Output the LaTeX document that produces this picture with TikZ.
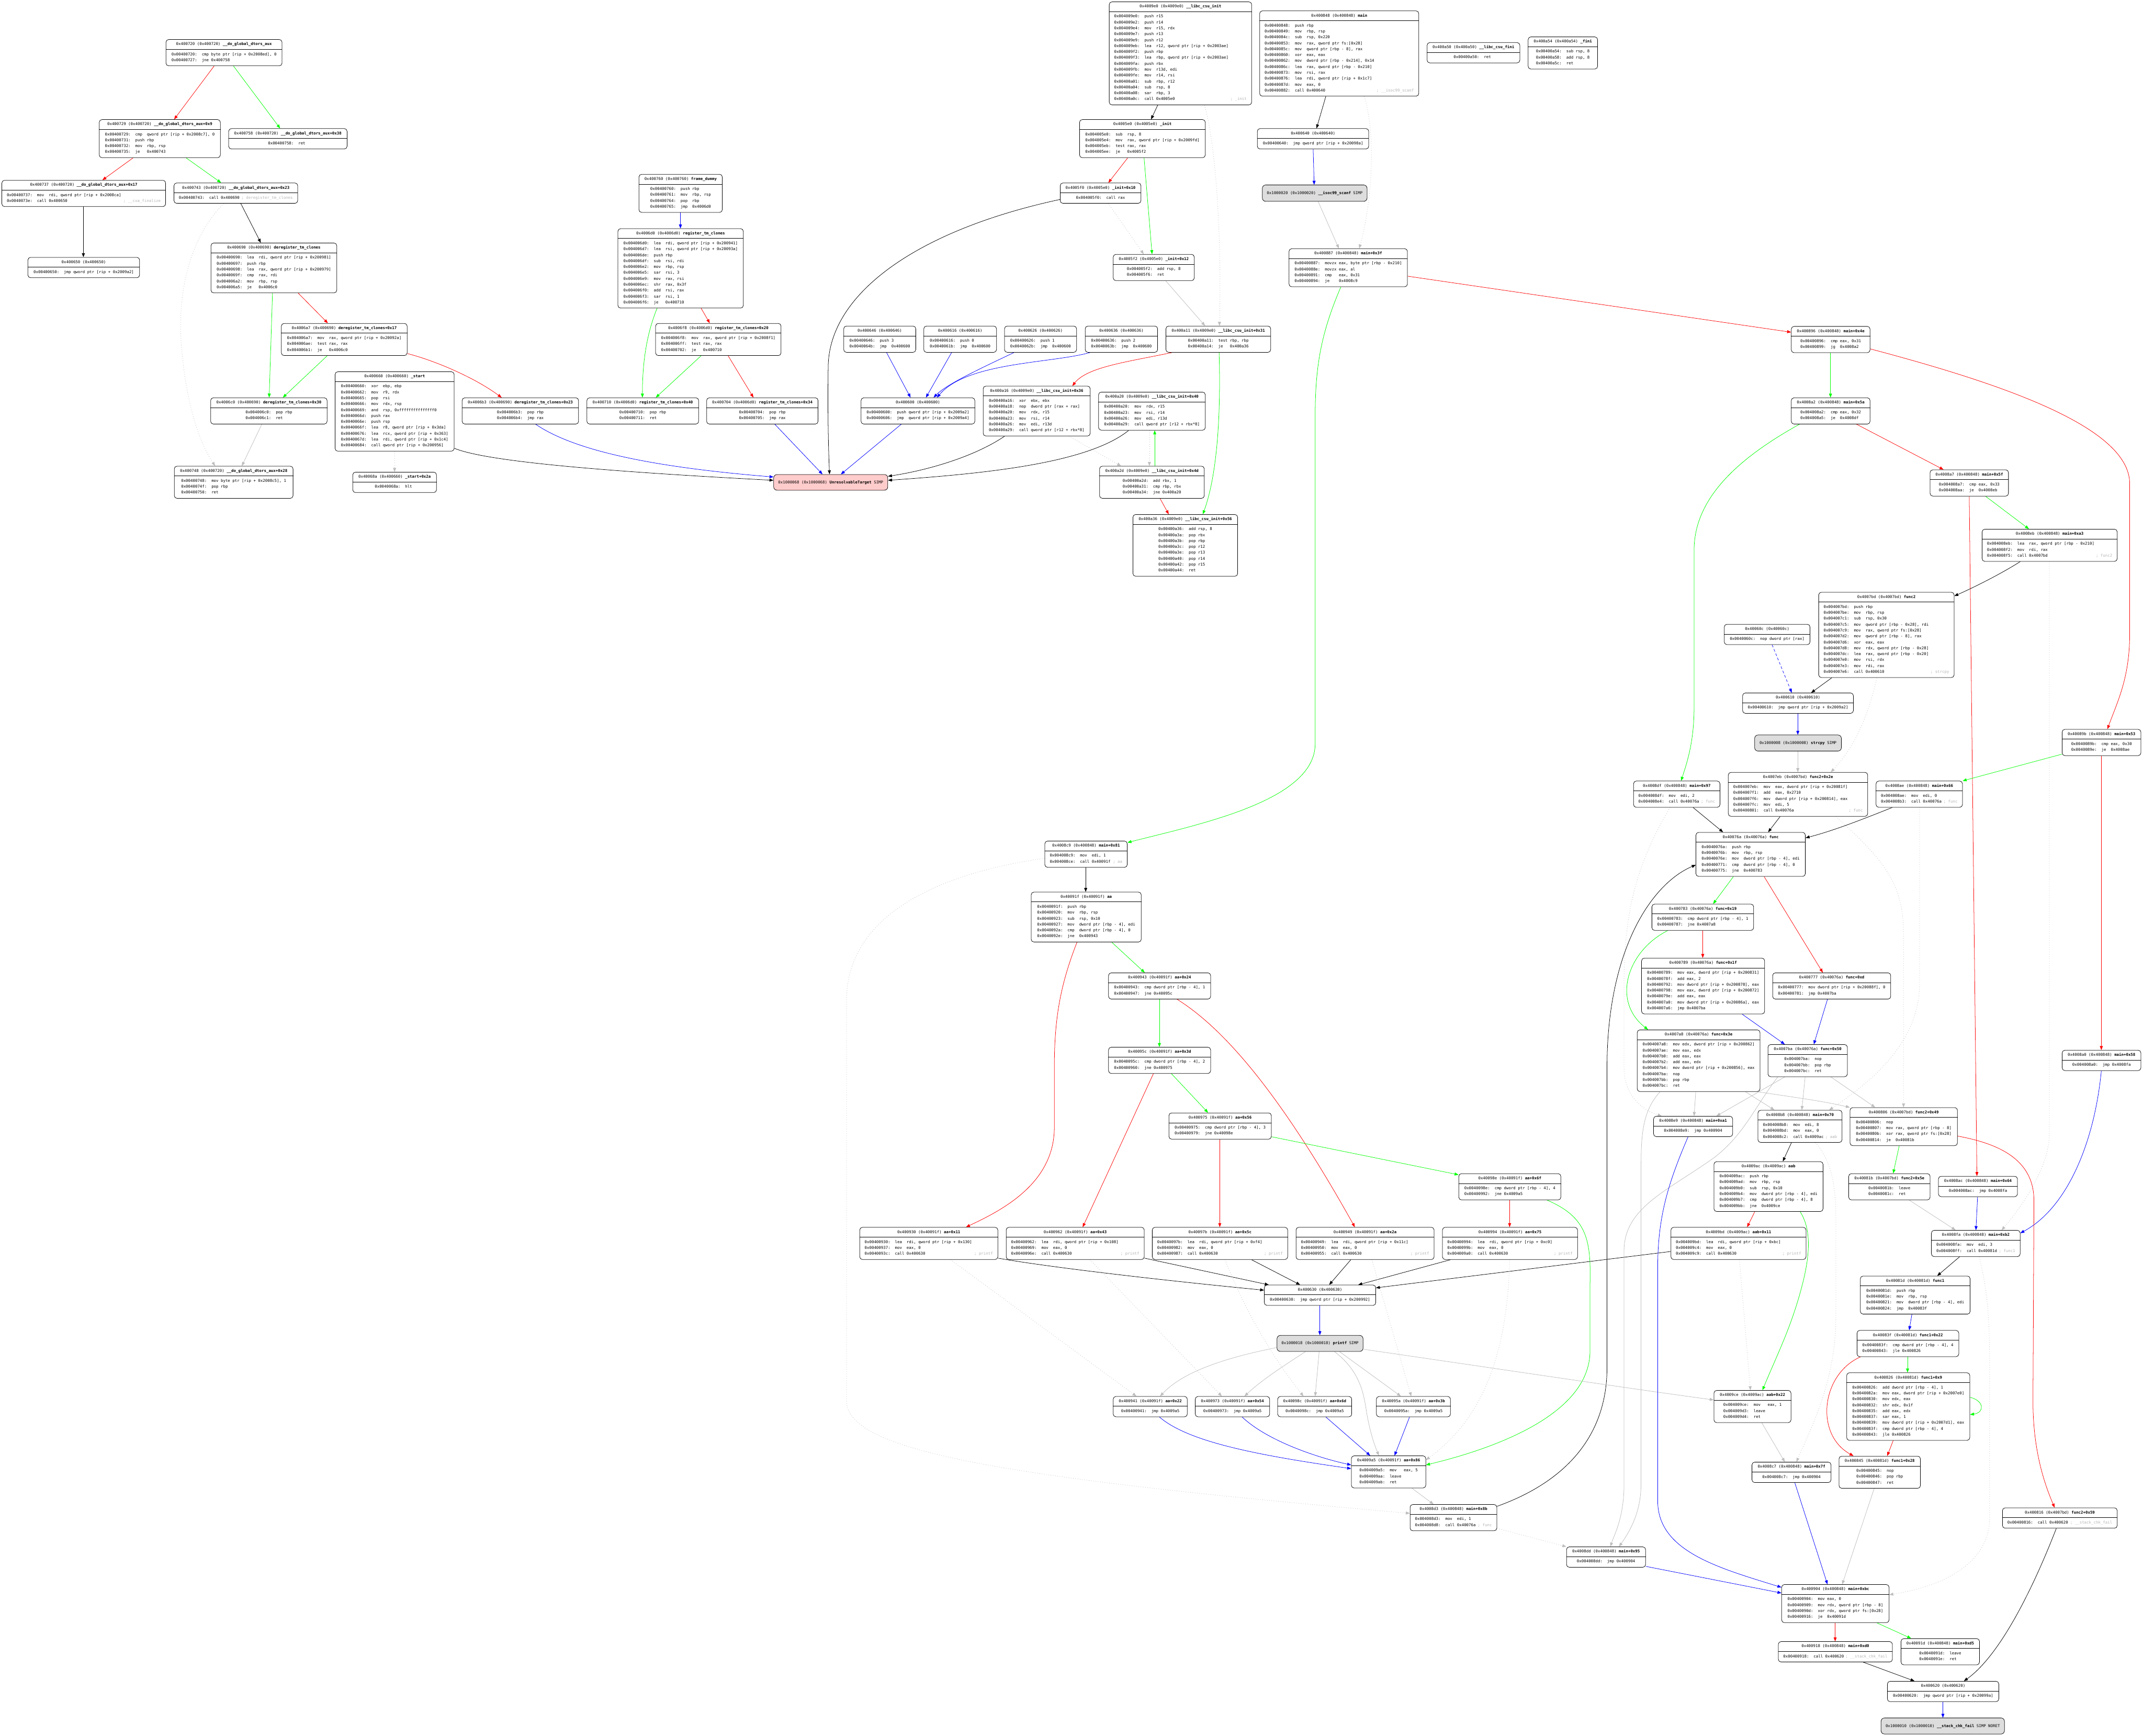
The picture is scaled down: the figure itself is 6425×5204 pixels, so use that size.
\documentclass[tikz,border=0pt]{standalone}
\usepackage{fontspec}
\setmonofont{DejaVu Sans Mono}
\usetikzlibrary{arrows.meta,calc}
\pgfdeclarelayer{bg}
\pgfdeclarelayer{edges}
\pgfsetlayers{bg,edges,main}
\definecolor{eg}{HTML}{00FF00}
\definecolor{eyc}{HTML}{BEBEBE}
\definecolor{cmtc}{HTML}{B4B4B4}
\definecolor{pinkf}{HTML}{FFCCCC}
\definecolor{simpf}{HTML}{DDDDDD}
\newlength\mwd
\newcommand\cfont{\ttfamily\fontsize{5.81}{8.85}\selectfont}
\newcommand\cln[3]{\strut 0x#1:\ \ \makebox[\mwd][l]{#2}\ #3}
\tikzset{
 bx/.style={draw=black, line width=0.6pt, rounded corners=4pt, inner sep=0pt, fill=white},
 tx/.style={font=\cfont, inner sep=0pt, text=black},
 code/.style={tx, align=left},
 cmt/.style={tx, text=cmtc},
 ar/.style={line width=0.6pt, -{Triangle[length=6pt,width=4.5pt]}},
 eR/.style={ar, draw=red},
 eG/.style={ar, draw=eg},
 eB/.style={ar, draw=blue},
 eK/.style={ar, draw=black},
 eY/.style={ar, draw=eyc},
 eD/.style={ar, draw=eyc, dash pattern=on 0.8pt off 2.6pt},
 eBd/.style={ar, draw=blue, dash pattern=on 4pt off 3pt},
}
\newcommand\blk[6]{%
 \pgfmathsetmacro\bw{(#4-#2)*0.5}%
 \pgfmathsetmacro\bh{(43.3+17.7*#5)*0.5}%
 \node[bx, minimum width=\bw pt, minimum height=\bh pt, anchor=north west] (#1) at (#2,#3) {};
 \draw[line width=0.6pt] ([yshift=-15pt]#1.north west) -- ([yshift=-15pt]#1.north east);
 \node[tx, anchor=north] at ([yshift=-2.75pt]#1.north) {\strut #6};
}
\newcommand\bodyc[3]{%
 \pgfmathsetlength\mwd{#2*3.4979pt}%
 \node[code, anchor=north] at ([yshift=-17.75pt]#1.north) {#3};
}
\newcommand\bodyl[5]{%
 \pgfmathsetlength\mwd{#2*3.4979pt}%
 \node[code, anchor=north west] at ([xshift=7.5pt,yshift=-17.75pt]#1.north west) {#3};
 \node[cmt, anchor=north east] at ([xshift=-7.5pt,yshift={-(17.75+8.85*(#4-1))*1pt}]#1.north east) {\strut #5};
}
\newcommand\simp[7]{%
 \pgfmathsetmacro\bw{(#4-#2)*0.5}%
 \pgfmathsetmacro\bh{(#5-#3)*0.5}%
 \node[bx, fill=#6, rounded corners=5pt, minimum width=\bw pt, minimum height=\bh pt, anchor=north west] (#1) at (#2,#3) {};
 \node[tx] at (#1.center) {\strut #7};
}
\begin{document}
\begin{tikzpicture}[x=0.5pt,y=-0.5pt]
\begin{pgfonlayer}{bg}
\fill[white] (0,0) rectangle (6425,5204);
\end{pgfonlayer}
\useasboundingbox (0,0) rectangle (6425,5204);

% ---------------- nodes ----------------
\blk{dtors}{497}{118}{845}{2}{0x400720 (0x400720) \textbf{\_\_do\_global\_dtors\_aux}}
\bodyc{dtors}{3}{\cln{00400720}{cmp}{byte ptr [rip + 0x2008ed], 0}\\\cln{00400727}{jne}{0x400758}}

\blk{dtors9}{297}{358}{660}{4}{0x400729 (0x400720) \textbf{\_\_do\_global\_dtors\_aux+0x9}}
\bodyc{dtors9}{4}{\cln{00400729}{cmp}{qword ptr [rip + 0x2008c7], 0}\\\cln{00400731}{push}{rbp}\\\cln{00400732}{mov}{rbp, rsp}\\\cln{00400735}{je}{0x400743}}

\blk{dtors38}{685}{385}{1040}{1}{0x400758 (0x400720) \textbf{\_\_do\_global\_dtors\_aux+0x38}}
\bodyc{dtors38}{3}{\cln{00400758}{ret}{}}

\blk{dtors17}{5}{540}{496}{2}{0x400737 (0x400720) \textbf{\_\_do\_global\_dtors\_aux+0x17}}
\bodyl{dtors17}{4}{\cln{00400737}{mov}{rdi, qword ptr [rip + 0x2008ca]}\\\cln{0040073e}{call}{0x400650}}{2}{; \_\_cxa\_finalize}

\blk{dtors23}{521}{548}{892}{1}{0x400743 (0x400720) \textbf{\_\_do\_global\_dtors\_aux+0x23}}
\bodyl{dtors23}{4}{\cln{00400743}{call}{0x400690}}{1}{; deregister\_tm\_clones}

\blk{p650}{83}{771}{418}{1}{0x400650 (0x400650)}
\bodyc{p650}{3}{\cln{00400650}{jmp}{qword ptr [rip + 0x2009a2]}}

\blk{dereg}{632}{728}{1009}{6}{0x400690 (0x400690) \textbf{deregister\_tm\_clones}}
\bodyc{dereg}{4}{\cln{00400690}{lea}{rdi, qword ptr [rip + 0x200981]}\\\cln{00400697}{push}{rbp}\\\cln{00400698}{lea}{rax, qword ptr [rip + 0x200979]}\\\cln{0040069f}{cmp}{rax, rdi}\\\cln{004006a2}{mov}{rbp, rsp}\\\cln{004006a5}{je}{0x4006c0}}

\blk{dereg17}{843}{969}{1220}{3}{0x4006a7 (0x400690) \textbf{deregister\_tm\_clones+0x17}}
\bodyc{dereg17}{4}{\cln{004006a7}{mov}{rax, qword ptr [rip + 0x20092a]}\\\cln{004006ae}{test}{rax, rax}\\\cln{004006b1}{je}{0x4006c0}}

\blk{start}{1004}{1114}{1361}{11}{0x400660 (0x400660) \textbf{\_start}}
\bodyc{start}{4}{\cln{00400660}{xor}{ebp, ebp}\\\cln{00400662}{mov}{r9, rdx}\\\cln{00400665}{pop}{rsi}\\\cln{00400666}{mov}{rdx, rsp}\\\cln{00400669}{and}{rsp, 0xfffffffffffffff0}\\\cln{0040066d}{push}{rax}\\\cln{0040066e}{push}{rsp}\\\cln{0040066f}{lea}{r8, qword ptr [rip + 0x3da]}\\\cln{00400676}{lea}{rcx, qword ptr [rip + 0x363]}\\\cln{0040067d}{lea}{rdi, qword ptr [rip + 0x1c4]}\\\cln{00400684}{call}{qword ptr [rip + 0x200956]}}

\blk{dereg30}{631}{1192}{980}{2}{0x4006c0 (0x400690) \textbf{deregister\_tm\_clones+0x30}}
\bodyc{dereg30}{3}{\cln{004006c0}{pop}{rbp}\\\cln{004006c1}{ret}{}}

\blk{dereg23}{1385}{1192}{1734}{2}{0x4006b3 (0x400690) \textbf{deregister\_tm\_clones+0x23}}
\bodyc{dereg23}{3}{\cln{004006b3}{pop}{rbp}\\\cln{004006b4}{jmp}{rax}}

\blk{dtors28}{522}{1397}{878}{3}{0x400748 (0x400720) \textbf{\_\_do\_global\_dtors\_aux+0x28}}
\bodyc{dtors28}{3}{\cln{00400748}{mov}{byte ptr [rip + 0x2008c5], 1}\\\cln{0040074f}{pop}{rbp}\\\cln{00400750}{ret}{}}

\blk{start2a}{1057}{1415}{1308}{1}{0x40068a (0x400660) \textbf{\_start+0x2a}}
\bodyc{start2a}{3}{\cln{0040068a}{hlt}{}}

\blk{fdummy}{1915}{522}{2165}{4}{0x400760 (0x400760) \textbf{frame\_dummy}}
\bodyc{fdummy}{4}{\cln{00400760}{push}{rbp}\\\cln{00400761}{mov}{rbp, rsp}\\\cln{00400764}{pop}{rbp}\\\cln{00400765}{jmp}{0x4006d0}}

\blk{reg}{1852}{685}{2228}{11}{0x4006d0 (0x4006d0) \textbf{register\_tm\_clones}}
\bodyc{reg}{4}{\cln{004006d0}{lea}{rdi, qword ptr [rip + 0x200941]}\\\cln{004006d7}{lea}{rsi, qword ptr [rip + 0x20093a]}\\\cln{004006de}{push}{rbp}\\\cln{004006df}{sub}{rsi, rdi}\\\cln{004006e2}{mov}{rbp, rsp}\\\cln{004006e5}{sar}{rsi, 3}\\\cln{004006e9}{mov}{rax, rsi}\\\cln{004006ec}{shr}{rax, 0x3f}\\\cln{004006f0}{add}{rsi, rax}\\\cln{004006f3}{sar}{rsi, 1}\\\cln{004006f6}{je}{0x400710}}

\blk{reg20}{1965}{969}{2341}{3}{0x4006f8 (0x4006d0) \textbf{register\_tm\_clones+0x20}}
\bodyc{reg20}{4}{\cln{004006f8}{mov}{rax, qword ptr [rip + 0x2008f1]}\\\cln{004006ff}{test}{rax, rax}\\\cln{00400702}{je}{0x400710}}

\blk{reg40}{1759}{1192}{2094}{2}{0x400710 (0x4006d0) \textbf{register\_tm\_clones+0x40}}
\bodyc{reg40}{3}{\cln{00400710}{pop}{rbp}\\\cln{00400711}{ret}{}}

\blk{reg34}{2118}{1192}{2452}{2}{0x400704 (0x4006d0) \textbf{register\_tm\_clones+0x34}}
\bodyc{reg34}{3}{\cln{00400704}{pop}{rbp}\\\cln{00400705}{jmp}{rax}}

\simp{unres}{2319}{1422}{2661}{1469}{pinkf}{0x1000068 (0x1000068) \textbf{UnresolvableTarget} SIMP}

\blk{p646}{2529}{977}{2745}{2}{0x400646 (0x400646)}
\bodyc{p646}{4}{\cln{00400646}{push}{3}\\\cln{0040064b}{jmp}{0x400600}}
\blk{p616}{2769}{977}{2987}{2}{0x400616 (0x400616)}
\bodyc{p616}{4}{\cln{00400616}{push}{0}\\\cln{0040061b}{jmp}{0x400600}}
\blk{p626}{3011}{977}{3227}{2}{0x400626 (0x400626)}
\bodyc{p626}{4}{\cln{00400626}{push}{1}\\\cln{0040062b}{jmp}{0x400600}}
\blk{p636}{3253}{977}{3470}{2}{0x400636 (0x400636)}
\bodyc{p636}{4}{\cln{00400636}{push}{2}\\\cln{0040063b}{jmp}{0x400600}}

\blk{p600}{2581}{1192}{2922}{2}{0x400600 (0x400600)}
\bodyc{p600}{4}{\cln{00400600}{push}{qword ptr [rip + 0x2009a2]}\\\cln{00400606}{jmp}{qword ptr [rip + 0x2009a4]}}

\blk{csu36}{2947}{1157}{3268}{6}{0x400a16 (0x4009e0) \textbf{\_\_libc\_csu\_init+0x36}}
\bodyc{csu36}{4}{\cln{00400a16}{xor}{ebx, ebx}\\\cln{00400a18}{nop}{dword ptr [rax + rax]}\\\cln{00400a20}{mov}{rdx, r15}\\\cln{00400a23}{mov}{rsi, r14}\\\cln{00400a26}{mov}{edi, r13d}\\\cln{00400a29}{call}{qword ptr [r12 + rbx*8]}}

\blk{init10}{3178}{548}{3420}{1}{0x4005f0 (0x4005e0) \textbf{\_init+0x10}}
\bodyc{init10}{4}{\cln{004005f0}{call}{rax}}

\blk{csu}{3325}{5}{3752}{15}{0x4009e0 (0x4009e0) \textbf{\_\_libc\_csu\_init}}
\bodyl{csu}{4}{\cln{004009e0}{push}{r15}\\\cln{004009e2}{push}{r14}\\\cln{004009e4}{mov}{r15, rdx}\\\cln{004009e7}{push}{r13}\\\cln{004009e9}{push}{r12}\\\cln{004009eb}{lea}{r12, qword ptr [rip + 0x2003ae]}\\\cln{004009f2}{push}{rbp}\\\cln{004009f3}{lea}{rbp, qword ptr [rip + 0x2003ae]}\\\cln{004009fa}{push}{rbx}\\\cln{004009fb}{mov}{r13d, edi}\\\cln{004009fe}{mov}{r14, rsi}\\\cln{00400a01}{sub}{rbp, r12}\\\cln{00400a04}{sub}{rsp, 8}\\\cln{00400a08}{sar}{rbp, 3}\\\cln{00400a0c}{call}{0x4005e0}}{15}{; \_init}

\blk{main}{3776}{32}{4253}{12}{0x400848 (0x400848) \textbf{main}}
\bodyl{main}{4}{\cln{00400848}{push}{rbp}\\\cln{00400849}{mov}{rbp, rsp}\\\cln{0040084c}{sub}{rsp, 0x220}\\\cln{00400853}{mov}{rax, qword ptr fs:[0x28]}\\\cln{0040085c}{mov}{qword ptr [rbp - 8], rax}\\\cln{00400860}{xor}{eax, eax}\\\cln{00400862}{mov}{dword ptr [rbp - 0x214], 0x14}\\\cln{0040086c}{lea}{rax, qword ptr [rbp - 0x210]}\\\cln{00400873}{mov}{rsi, rax}\\\cln{00400876}{lea}{rdi, qword ptr [rip + 0x1c7]}\\\cln{0040087d}{mov}{eax, 0}\\\cln{00400882}{call}{0x400640}}{12}{; \_\_isoc99\_scanf}

\blk{csufini}{4278}{127}{4556}{1}{0x400a50 (0x400a50) \textbf{\_\_libc\_csu\_fini}}
\bodyc{csufini}{3}{\cln{00400a50}{ret}{}}

\blk{fini}{4581}{110}{4789}{3}{0x400a54 (0x400a54) \textbf{\_fini}}
\bodyc{fini}{3}{\cln{00400a54}{sub}{rsp, 8}\\\cln{00400a58}{add}{rsp, 8}\\\cln{00400a5c}{ret}{}}

\blk{init}{3236}{358}{3613}{4}{0x4005e0 (0x4005e0) \textbf{\_init}}
\bodyc{init}{4}{\cln{004005e0}{sub}{rsp, 8}\\\cln{004005e4}{mov}{rax, qword ptr [rip + 0x2009fd]}\\\cln{004005eb}{test}{rax, rax}\\\cln{004005ee}{je}{0x4005f2}}

\blk{p640}{3769}{385}{4103}{1}{0x400640 (0x400640)}
\bodyc{p640}{3}{\cln{00400640}{jmp}{qword ptr [rip + 0x20098a]}}

\simp{scanf}{3784}{554}{4098}{603}{simpf}{0x1000020 (0x1000020) \textbf{\_\_isoc99\_scanf} SIMP}

\blk{init12}{3337}{762}{3580}{2}{0x4005f2 (0x4005e0) \textbf{\_init+0x12}}
\bodyc{init12}{3}{\cln{004005f2}{add}{rsp, 8}\\\cln{004005f6}{ret}{}}

\blk{main3f}{3864}{745}{4219}{4}{0x400887 (0x400848) \textbf{main+0x3f}}
\bodyc{main3f}{5}{\cln{00400887}{movzx}{eax, byte ptr [rbp - 0x210]}\\\cln{0040088e}{movzx}{eax, al}\\\cln{00400891}{cmp}{eax, 0x31}\\\cln{00400894}{je}{0x4008c9}}

\blk{csu31}{3495}{977}{3809}{2}{0x400a11 (0x4009e0) \textbf{\_\_libc\_csu\_init+0x31}}
\bodyc{csu31}{4}{\cln{00400a11}{test}{rbp, rbp}\\\cln{00400a14}{je}{0x400a36}}

\blk{csu40}{3293}{1175}{3613}{4}{0x400a20 (0x4009e0) \textbf{\_\_libc\_csu\_init+0x40}}
\bodyc{csu40}{4}{\cln{00400a20}{mov}{rdx, r15}\\\cln{00400a23}{mov}{rsi, r14}\\\cln{00400a26}{mov}{edi, r13d}\\\cln{00400a29}{call}{qword ptr [r12 + rbx*8]}}

\blk{csu4d}{3296}{1397}{3610}{3}{0x400a2d (0x4009e0) \textbf{\_\_libc\_csu\_init+0x4d}}
\bodyc{csu4d}{3}{\cln{00400a2d}{add}{rbx, 1}\\\cln{00400a31}{cmp}{rbp, rbx}\\\cln{00400a34}{jne}{0x400a20}}

\blk{csu56}{3396}{1542}{3710}{8}{0x400a36 (0x4009e0) \textbf{\_\_libc\_csu\_init+0x56}}
\bodyc{csu56}{3}{\cln{00400a36}{add}{rsp, 8}\\\cln{00400a3a}{pop}{rbx}\\\cln{00400a3b}{pop}{rbp}\\\cln{00400a3c}{pop}{r12}\\\cln{00400a3e}{pop}{r13}\\\cln{00400a40}{pop}{r14}\\\cln{00400a42}{pop}{r15}\\\cln{00400a44}{ret}{}}

\blk{m4e}{5370}{978}{5606}{2}{0x400896 (0x400848) \textbf{main+0x4e}}
\bodyc{m4e}{3}{\cln{00400896}{cmp}{eax, 0x31}\\\cln{00400899}{jg}{0x4008a2}}

\blk{m5a}{5370}{1192}{5606}{2}{0x4008a2 (0x400848) \textbf{main+0x5a}}
\bodyc{m5a}{3}{\cln{004008a2}{cmp}{eax, 0x32}\\\cln{004008a5}{je}{0x4008df}}

\blk{m5f}{5786}{1408}{6021}{2}{0x4008a7 (0x400848) \textbf{main+0x5f}}
\bodyc{m5f}{3}{\cln{004008a7}{cmp}{eax, 0x33}\\\cln{004008aa}{je}{0x4008eb}}

\blk{ma3}{5942}{1586}{6347}{3}{0x4008eb (0x400848) \textbf{main+0xa3}}
\bodyl{ma3}{4}{\cln{004008eb}{lea}{rax, qword ptr [rbp - 0x210]}\\\cln{004008f2}{mov}{rdi, rax}\\\cln{004008f5}{call}{0x4007bd}}{3}{; func2}

\blk{m81}{3132}{2521}{3379}{2}{0x4008c9 (0x400848) \textbf{main+0x81}}
\bodyl{m81}{4}{\cln{004008c9}{mov}{edi, 1}\\\cln{004008ce}{call}{0x40091f}}{2}{; aa}

\blk{aa}{3091}{2674}{3421}{6}{0x40091f (0x40091f) \textbf{aa}}
\bodyc{aa}{4}{\cln{0040091f}{push}{rbp}\\\cln{00400920}{mov}{rbp, rsp}\\\cln{00400923}{sub}{rsp, 0x10}\\\cln{00400927}{mov}{dword ptr [rbp - 4], edi}\\\cln{0040092a}{cmp}{dword ptr [rbp - 4], 0}\\\cln{0040092e}{jne}{0x400943}}

\blk{aa24}{3323}{2916}{3629}{2}{0x400943 (0x40091f) \textbf{aa+0x24}}
\bodyc{aa24}{3}{\cln{00400943}{cmp}{dword ptr [rbp - 4], 1}\\\cln{00400947}{jne}{0x40095c}}

\blk{aa3d}{3323}{3139}{3629}{2}{0x40095c (0x40091f) \textbf{aa+0x3d}}
\bodyc{aa3d}{3}{\cln{0040095c}{cmp}{dword ptr [rbp - 4], 2}\\\cln{00400960}{jne}{0x400975}}

\blk{aa56}{3504}{3336}{3811}{2}{0x400975 (0x40091f) \textbf{aa+0x56}}
\bodyc{aa56}{3}{\cln{00400975}{cmp}{dword ptr [rbp - 4], 3}\\\cln{00400979}{jne}{0x40098e}}

\blk{func2}{5452}{1775}{5858}{12}{0x4007bd (0x4007bd) \textbf{func2}}
\bodyl{func2}{4}{\cln{004007bd}{push}{rbp}\\\cln{004007be}{mov}{rbp, rsp}\\\cln{004007c1}{sub}{rsp, 0x30}\\\cln{004007c5}{mov}{qword ptr [rbp - 0x28], rdi}\\\cln{004007c9}{mov}{rax, qword ptr fs:[0x28]}\\\cln{004007d2}{mov}{qword ptr [rbp - 8], rax}\\\cln{004007d6}{xor}{eax, eax}\\\cln{004007d8}{mov}{rdx, qword ptr [rbp - 0x28]}\\\cln{004007dc}{lea}{rax, qword ptr [rbp - 0x20]}\\\cln{004007e0}{mov}{rsi, rdx}\\\cln{004007e3}{mov}{rdi, rax}\\\cln{004007e6}{call}{0x400610}}{12}{; strcpy}

\blk{p60c}{5169}{1871}{5426}{1}{0x40060c (0x40060c)}
\bodyc{p60c}{3}{\cln{0040060c}{nop}{dword ptr [rax]}}

\blk{p610}{5224}{2077}{5556}{1}{0x400610 (0x400610)}
\bodyc{p610}{3}{\cln{00400610}{jmp}{qword ptr [rip + 0x2009a2]}}

\simp{strcpy}{5260}{2203}{5520}{2251}{simpf}{0x1000008 (0x1000008) \textbf{strcpy} SIMP}

\blk{f2e}{5181}{2315}{5599}{5}{0x4007eb (0x4007bd) \textbf{func2+0x2e}}
\bodyl{f2e}{4}{\cln{004007eb}{mov}{eax, dword ptr [rip + 0x20081f]}\\\cln{004007f1}{add}{eax, 0x2710}\\\cln{004007f6}{mov}{dword ptr [rip + 0x200814], eax}\\\cln{004007fc}{mov}{edi, 5}\\\cln{00400801}{call}{0x40076a}}{5}{; func}

\blk{m97}{4897}{2341}{5156}{2}{0x4008df (0x400848) \textbf{main+0x97}}
\bodyl{m97}{4}{\cln{004008df}{mov}{edi, 2}\\\cln{004008e4}{call}{0x40076a}}{2}{; func}

\blk{m66}{5624}{2341}{5883}{2}{0x4008ae (0x400848) \textbf{main+0x66}}
\bodyl{m66}{4}{\cln{004008ae}{mov}{edi, 0}\\\cln{004008b3}{call}{0x40076a}}{2}{; func}

\blk{m53}{6182}{2186}{6418}{2}{0x40089b (0x400848) \textbf{main+0x53}}
\bodyc{m53}{3}{\cln{0040089b}{cmp}{eax, 0x30}\\\cln{0040089e}{je}{0x4008ae}}

\blk{m58}{6182}{3148}{6418}{1}{0x4008a0 (0x400848) \textbf{main+0x58}}
\bodyc{m58}{3}{\cln{004008a0}{jmp}{0x4008fa}}

\blk{func}{5084}{2495}{5412}{5}{0x40076a (0x40076a) \textbf{func}}
\bodyc{func}{4}{\cln{0040076a}{push}{rbp}\\\cln{0040076b}{mov}{rbp, rsp}\\\cln{0040076e}{mov}{dword ptr [rbp - 4], edi}\\\cln{00400771}{cmp}{dword ptr [rbp - 4], 0}\\\cln{00400775}{jne}{0x400783}}

\blk{f19}{4952}{2710}{5257}{2}{0x400783 (0x40076a) \textbf{func+0x19}}
\bodyc{f19}{3}{\cln{00400783}{cmp}{dword ptr [rbp - 4], 1}\\\cln{00400787}{jne}{0x4007a8}}

\blk{f1f}{4921}{2872}{5290}{7}{0x400789 (0x40076a) \textbf{func+0x1f}}
\bodyc{f1f}{3}{\cln{00400789}{mov}{eax, dword ptr [rip + 0x200831]}\\\cln{0040078f}{add}{eax, 2}\\\cln{00400792}{mov}{dword ptr [rip + 0x200878], eax}\\\cln{00400798}{mov}{eax, dword ptr [rip + 0x200872]}\\\cln{0040079e}{add}{eax, eax}\\\cln{004007a0}{mov}{dword ptr [rip + 0x20086a], eax}\\\cln{004007a6}{jmp}{0x4007ba}}

\blk{fd}{5314}{2916}{5668}{2}{0x400777 (0x40076a) \textbf{func+0xd}}
\bodyc{fd}{3}{\cln{00400777}{mov}{dword ptr [rip + 0x20088f], 0}\\\cln{00400781}{jmp}{0x4007ba}}

\blk{f3e}{4908}{3087}{5276}{8}{0x4007a8 (0x40076a) \textbf{func+0x3e}}
\bodyc{f3e}{3}{\cln{004007a8}{mov}{edx, dword ptr [rip + 0x200862]}\\\cln{004007ae}{mov}{eax, edx}\\\cln{004007b0}{add}{eax, eax}\\\cln{004007b2}{add}{eax, edx}\\\cln{004007b4}{mov}{dword ptr [rip + 0x200856], eax}\\\cln{004007ba}{nop}{}\\\cln{004007bb}{pop}{rbp}\\\cln{004007bc}{ret}{}}

\blk{f50}{5300}{3131}{5538}{3}{0x4007ba (0x40076a) \textbf{func+0x50}}
\bodyc{f50}{3}{\cln{004007ba}{nop}{}\\\cln{004007bb}{pop}{rbp}\\\cln{004007bc}{ret}{}}

\blk{ma1}{4957}{3346}{5194}{1}{0x4008e9 (0x400848) \textbf{main+0xa1}}
\bodyc{ma1}{3}{\cln{004008e9}{jmp}{0x400904}}

\blk{m70}{5270}{3328}{5522}{3}{0x4008b8 (0x400848) \textbf{main+0x70}}
\bodyl{m70}{4}{\cln{004008b8}{mov}{edi, 8}\\\cln{004008bd}{mov}{eax, 0}\\\cln{004008c2}{call}{0x4009ac}}{3}{; aab}

\blk{f249}{5546}{3320}{5868}{4}{0x400806 (0x4007bd) \textbf{func2+0x49}}
\bodyc{f249}{3}{\cln{00400806}{nop}{}\\\cln{00400807}{mov}{rax, qword ptr [rbp - 8]}\\\cln{0040080b}{xor}{rax, qword ptr fs:[0x28]}\\\cln{00400814}{je}{0x40081b}}

\blk{aa43}{3016}{3679}{3430}{3}{0x400962 (0x40091f) \textbf{aa+0x43}}
\bodyl{aa43}{4}{\cln{00400962}{lea}{rdi, qword ptr [rip + 0x108]}\\\cln{00400969}{mov}{eax, 0}\\\cln{0040096e}{call}{0x400630}}{3}{; printf}

\blk{aa11}{2577}{3679}{2991}{3}{0x400930 (0x40091f) \textbf{aa+0x11}}
\bodyl{aa11}{4}{\cln{00400930}{lea}{rdi, qword ptr [rip + 0x130]}\\\cln{00400937}{mov}{eax, 0}\\\cln{0040093c}{call}{0x400630}}{3}{; printf}

\blk{aa5c}{3454}{3679}{3860}{3}{0x40097b (0x40091f) \textbf{aa+0x5c}}
\bodyl{aa5c}{4}{\cln{0040097b}{lea}{rdi, qword ptr [rip + 0xf4]}\\\cln{00400982}{mov}{eax, 0}\\\cln{00400987}{call}{0x400630}}{3}{; printf}

\blk{aa2a}{3885}{3679}{4299}{3}{0x400949 (0x40091f) \textbf{aa+0x2a}}
\bodyl{aa2a}{4}{\cln{00400949}{lea}{rdi, qword ptr [rip + 0x11c]}\\\cln{00400950}{mov}{eax, 0}\\\cln{00400955}{call}{0x400630}}{3}{; printf}

\blk{aa75}{4324}{3679}{4729}{3}{0x400994 (0x40091f) \textbf{aa+0x75}}
\bodyl{aa75}{4}{\cln{00400994}{lea}{rdi, qword ptr [rip + 0xc0]}\\\cln{0040099b}{mov}{eax, 0}\\\cln{004009a0}{call}{0x400630}}{3}{; printf}

\blk{aa6f}{4373}{3518}{4679}{2}{0x40098e (0x40091f) \textbf{aa+0x6f}}
\bodyc{aa6f}{3}{\cln{0040098e}{cmp}{dword ptr [rbp - 4], 4}\\\cln{00400992}{jne}{0x4009a5}}

\blk{p630}{3790}{3852}{4124}{1}{0x400630 (0x400630)}
\bodyc{p630}{3}{\cln{00400630}{jmp}{qword ptr [rip + 0x200992]}}

\simp{printf}{3828}{4003}{4086}{4051}{simpf}{0x1000018 (0x1000018) \textbf{printf} SIMP}

\blk{aa22}{3337}{4186}{3559}{1}{0x400941 (0x40091f) \textbf{aa+0x22}}
\bodyc{aa22}{3}{\cln{00400941}{jmp}{0x4009a5}}
\blk{aa54}{3583}{4186}{3806}{1}{0x400973 (0x40091f) \textbf{aa+0x54}}
\bodyc{aa54}{3}{\cln{00400973}{jmp}{0x4009a5}}
\blk{aa6d}{3830}{4186}{4052}{1}{0x40098c (0x40091f) \textbf{aa+0x6d}}
\bodyc{aa6d}{3}{\cln{0040098c}{jmp}{0x4009a5}}
\blk{aa3b}{4126}{4186}{4348}{1}{0x40095a (0x40091f) \textbf{aa+0x3b}}
\bodyc{aa3b}{3}{\cln{0040095a}{jmp}{0x4009a5}}

\blk{aa86}{4051}{4364}{4274}{3}{0x4009a5 (0x40091f) \textbf{aa+0x86}}
\bodyc{aa86}{5}{\cln{004009a5}{mov}{eax, 5}\\\cln{004009aa}{leave}{}\\\cln{004009ab}{ret}{}}

\blk{m8b}{4227}{4510}{4487}{2}{0x4008d3 (0x400848) \textbf{main+0x8b}}
\bodyl{m8b}{4}{\cln{004008d3}{mov}{edi, 1}\\\cln{004008d8}{call}{0x40076a}}{2}{; func}

\blk{m95}{4696}{4637}{4933}{1}{0x4008dd (0x400848) \textbf{main+0x95}}
\bodyc{m95}{3}{\cln{004008dd}{jmp}{0x400904}}

\blk{aab}{5138}{3482}{5465}{6}{0x4009ac (0x4009ac) \textbf{aab}}
\bodyc{aab}{4}{\cln{004009ac}{push}{rbp}\\\cln{004009ad}{mov}{rbp, rsp}\\\cln{004009b0}{sub}{rsp, 0x10}\\\cln{004009b4}{mov}{dword ptr [rbp - 4], edi}\\\cln{004009b7}{cmp}{dword ptr [rbp - 4], 8}\\\cln{004009bb}{jne}{0x4009ce}}

\blk{f25e}{5542}{3518}{5786}{2}{0x40081b (0x4007bd) \textbf{func2+0x5e}}
\bodyc{f25e}{5}{\cln{0040081b}{leave}{}\\\cln{0040081c}{ret}{}}

\blk{m64}{5811}{3526}{6048}{1}{0x4008ac (0x400848) \textbf{main+0x64}}
\bodyc{m64}{3}{\cln{004008ac}{jmp}{0x4008fa}}

\blk{aab11}{5009}{3679}{5414}{3}{0x4009bd (0x4009ac) \textbf{aab+0x11}}
\bodyl{aab11}{4}{\cln{004009bd}{lea}{rdi, qword ptr [rip + 0xbc]}\\\cln{004009c4}{mov}{eax, 0}\\\cln{004009c9}{call}{0x400630}}{3}{; printf}

\blk{mb2}{5790}{3688}{6056}{2}{0x4008fa (0x400848) \textbf{main+0xb2}}
\bodyl{mb2}{4}{\cln{004008fa}{mov}{edi, 3}\\\cln{004008ff}{call}{0x40081d}}{2}{; func1}

\blk{func1}{5577}{3825}{5906}{4}{0x40081d (0x40081d) \textbf{func1}}
\bodyc{func1}{4}{\cln{0040081d}{push}{rbp}\\\cln{0040081e}{mov}{rbp, rsp}\\\cln{00400821}{mov}{dword ptr [rbp - 4], edi}\\\cln{00400824}{jmp}{0x40083f}}

\blk{f122}{5567}{3988}{5872}{2}{0x40083f (0x40081d) \textbf{func1+0x22}}
\bodyc{f122}{3}{\cln{0040083f}{cmp}{dword ptr [rbp - 4], 4}\\\cln{00400843}{jle}{0x400826}}

\blk{f19x}{5536}{4115}{5905}{9}{0x400826 (0x40081d) \textbf{func1+0x9}}
\bodyc{f19x}{3}{\cln{00400826}{add}{dword ptr [rbp - 4], 1}\\\cln{0040082a}{mov}{eax, dword ptr [rip + 0x2007e0]}\\\cln{00400830}{mov}{edx, eax}\\\cln{00400832}{shr}{edx, 0x1f}\\\cln{00400835}{add}{eax, edx}\\\cln{00400837}{sar}{eax, 1}\\\cln{00400839}{mov}{dword ptr [rip + 0x2007d1], eax}\\\cln{0040083f}{cmp}{dword ptr [rbp - 4], 4}\\\cln{00400843}{jle}{0x400826}}

\blk{aab22}{5138}{4168}{5369}{3}{0x4009ce (0x4009ac) \textbf{aab+0x22}}
\bodyc{aab22}{5}{\cln{004009ce}{mov}{eax, 1}\\\cln{004009d3}{leave}{}\\\cln{004009d4}{ret}{}}

\blk{m7f}{5252}{4383}{5489}{1}{0x4008c7 (0x400848) \textbf{main+0x7f}}
\bodyc{m7f}{3}{\cln{004008c7}{jmp}{0x400904}}

\blk{f128}{5513}{4365}{5757}{3}{0x400845 (0x40081d) \textbf{func1+0x28}}
\bodyc{f128}{3}{\cln{00400845}{nop}{}\\\cln{00400846}{pop}{rbp}\\\cln{00400847}{ret}{}}

\blk{f259}{6003}{4520}{6347}{1}{0x400816 (0x4007bd) \textbf{func2+0x59}}
\bodyl{f259}{4}{\cln{00400816}{call}{0x400620}}{1}{; \_\_stack\_chk\_fail}

\blk{mbc}{5341}{4750}{5663}{4}{0x400904 (0x400848) \textbf{main+0xbc}}
\bodyc{mbc}{3}{\cln{00400904}{mov}{eax, 0}\\\cln{00400909}{mov}{rdx, qword ptr [rbp - 8]}\\\cln{0040090d}{xor}{rdx, qword ptr fs:[0x28]}\\\cln{00400916}{je}{0x40091d}}

\blk{md0}{5331}{4921}{5673}{1}{0x400918 (0x400848) \textbf{main+0xd0}}
\bodyl{md0}{4}{\cln{00400918}{call}{0x400620}}{1}{; \_\_stack\_chk\_fail}

\blk{md5}{5699}{4912}{5934}{2}{0x40091d (0x400848) \textbf{main+0xd5}}
\bodyc{md5}{5}{\cln{0040091d}{leave}{}\\\cln{0040091e}{ret}{}}

\blk{p620}{5658}{5040}{5992}{1}{0x400620 (0x400620)}
\bodyc{p620}{3}{\cln{00400620}{jmp}{qword ptr [rip + 0x20099a]}}

\simp{stack}{5639}{5150}{6009}{5198}{simpf}{0x1000010 (0x1000010) \textbf{\_\_stack\_chk\_fail} SIMP NORET}

% ---------------- edges ----------------
\begin{pgfonlayer}{edges}
\draw[eR] (dtors.south -| 642,0) -- (dtors9.north -| 522,0);
\draw[eG] (dtors.south -| 700,0) -- (dtors38.north -| 840,0);
\draw[eR] (dtors9.south -| 399,0) -- (dtors17.north -| 307,0);
\draw[eG] (dtors9.south -| 558,0) -- (dtors23.north -| 663,0);
\draw[eK] (dtors17.south -| 250,0) -- (p650.north -| 250,0);
\draw[eK] (dtors23.south -| 722,0) -- (dereg.north -| 782,0);
\draw[eD] (dtors23.south -| 671,0) .. controls (560,720) and (530,900) .. (545,1050) .. controls (560,1220) and (600,1330) .. (dtors28.north -| 645,0);
\draw[eG] (dereg.south -| 817,0) -- (dereg30.north -| 807,0);
\draw[eR] (dereg.south -| 894,0) -- (dereg17.north -| 983,0);
\draw[eG] (dereg17.south -| 981,0) -- (dereg30.north -| 848,0);
\draw[eR] (dereg17.east |- 0,1060) .. controls (1300,1080) and (1420,1130) .. (dereg23.north -| 1504,0);
\draw[eY] (dereg30.south -| 785,0) -- (dtors28.north -| 725,0);
\draw[eD] (start.south -| 1183,0) -- (start2a.north -| 1183,0);
\draw[eK] (start.east |- 0,1344) .. controls (1450,1380) and (1750,1410) .. (unres.west |- 0,1440);
\draw[eB] (fdummy.south -| 2040,0) -- (reg.north -| 2040,0);
\draw[eG] (reg.south -| 1970,0) .. controls (1935,1010) and (1926,1100) .. (reg40.north -| 1926,0);
\draw[eR] (reg.south -| 2102,0) -- (reg20.north -| 2128,0);
\draw[eG] (reg20.south -| 2102,0) -- (reg40.north -| 1966,0);
\draw[eR] (reg20.south -| 2183,0) -- (reg34.north -| 2259,0);
\draw[eB] (dereg23.south -| 1606,0) .. controls (1720,1350) and (1950,1400) .. (unres.west |- 0,1430);
\draw[eB] (reg34.south -| 2323,0) -- (unres.north -| 2466,0);
\draw[eB] (p600.south -| 2702,0) -- (unres.north -| 2521,0);
\draw[eB] (p646.south -| 2658,0) -- (p600.north -| 2730,0);
\draw[eB] (p616.south -| 2853,0) -- (p600.north -| 2776,0);
\draw[eB] (p626.south -| 3040,0) .. controls (2950,1100) and (2840,1150) .. (p600.north -| 2799,0);
\draw[eB] (p636.south -| 3268,0) .. controls (3150,1090) and (2900,1085) .. (p600.north -| 2809,0);
\draw[eK] (init10.west |- 0,598) .. controls (2750,690) and (2485,880) .. (2483,1100) .. controls (2481,1250) and (2484,1350) .. (unres.north -| 2487,0);
\draw[eK] (csu36.south -| 3012,0) .. controls (2920,1370) and (2780,1410) .. (unres.east |- 0,1428);
\draw[eK] (csu40.south -| 3384,0) .. controls (3260,1390) and (2950,1420) .. (unres.east |- 0,1440);
\draw[eK] (csu.south -| 3471,0) -- (init.north -| 3451,0);
\draw[eD] (csu.south -| 3611,0) .. controls (3650,450) and (3662,750) .. (csu31.north -| 3656,0);
\draw[eR] (init.south -| 3381,0) -- (init10.north -| 3323,0);
\draw[eG] (init.south -| 3430,0) -- (init12.north -| 3454,0);
\draw[eD] (init10.south -| 3323,0) -- (init12.north -| 3429,0);
\draw[eY] (init12.south -| 3495,0) -- (csu31.north -| 3613,0);
\draw[eR] (csu31.south -| 3514,0) .. controls (3380,1085) and (3260,1100) .. (csu36.north -| 3215,0);
\draw[eG] (csu31.south -| 3655,0) .. controls (3662,1300) and (3640,1450) .. (csu56.north -| 3606,0);
\draw[eD] (csu36.south -| 3205,0) -- (csu4d.north -| 3361,0);
\draw[eD] (csu40.south -| 3446,0) -- (csu4d.north -| 3446,0);
\draw[eG] (csu4d.north -| 3462,0) -- (csu40.south -| 3462,0);
\draw[eR] (csu4d.south -| 3478,0) -- (csu56.north -| 3504,0);
\draw[eK] (main.south -| 3975,0) -- (p640.north -| 3947,0);
\draw[eD] (main.south -| 4090,0) .. controls (4125,400) and (4115,600) .. (main3f.north -| 4075,0);
\draw[eB] (p640.south -| 3937,0) -- (scanf.north -| 3940,0);
\draw[eY] (scanf.south -| 3952,0) -- (main3f.north -| 4014,0);
\draw[eR] (main3f.east |- 0,828) -- (m4e.west |- 0,996);
\draw[eG] (main3f.south -| 4020,0) .. controls (3960,1000) and (3943,1100) .. (3943,1250) -- (3943,2230) .. controls (3943,2400) and (3600,2470) .. (m81.east |- 0,2526);
\draw[eG] (m4e.south -| 5488,0) -- (m5a.north -| 5488,0);
\draw[eR] (m4e.east |- 0,1046) .. controls (6000,1150) and (6385,1280) .. (6385,1450) -- (6385,1900) .. controls (6385,2030) and (6350,2100) .. (m53.north -| 6318,0);
\draw[eG] (m5a.south -| 5395,0) .. controls (5200,1380) and (5079,1500) .. (5079,1650) -- (5079,2120) .. controls (5079,2220) and (5060,2280) .. (m97.north -| 5040,0);
\draw[eR] (m5a.south -| 5566,0) -- (m5f.north -| 5827,0);
\draw[eG] (m5f.south -| 5953,0) -- (ma3.north -| 6083,0);
\draw[eR] (m5f.south -| 5904,0) -- (m64.north -| 5927,0);
\draw[eK] (ma3.south -| 6057,0) .. controls (6000,1720) and (5920,1760) .. (func2.east |- 0,1787);
\draw[eD] (ma3.south -| 6144,0) -- (6144,3400) .. controls (6144,3500) and (6060,3620) .. (mb2.north -| 6001,0);
\draw[eK] (func2.south -| 5492,0) -- (p610.north -| 5430,0);
\draw[eD] (func2.south -| 5627,0) .. controls (5600,2150) and (5560,2240) .. (f2e.north -| 5489,0);
\draw[eBd] (p60c.south -| 5313,0) -- (p610.north -| 5372,0);
\draw[eB] (p610.south -| 5390,0) -- (strcpy.north -| 5390,0);
\draw[eY] (strcpy.south -| 5390,0) -- (f2e.north -| 5390,0);
\draw[eK] (f2e.south -| 5337,0) -- (func.north -| 5301,0);
\draw[eD] (f2e.south -| 5504,0) .. controls (5650,2580) and (5707,2650) .. (5707,2800) -- (f249.north -| 5707,0);
\draw[eK] (m97.south -| 5076,0) -- (func.north -| 5166,0);
\draw[eD] (m97.south -| 5007,0) .. controls (4900,2600) and (4869,2750) .. (4869,2950) -- (4869,3200) .. controls (4869,3290) and (4930,3330) .. (ma1.north -| 4982,0);
\draw[eK] (m66.south -| 5673,0) .. controls (5600,2450) and (5500,2490) .. (func.east |- 0,2512);
\draw[eD] (m66.south -| 5755,0) -- (5755,2950) .. controls (5755,3130) and (5600,3250) .. (m70.north -| 5484,0);
\draw[eG] (m53.west |- 0,2261) -- (m66.north east);
\draw[eR] (m53.south -| 6300,0) -- (m58.north -| 6300,0);
\draw[eG] (func.south -| 5197,0) -- (f19.north -| 5136,0);
\draw[eR] (func.south -| 5289,0) -- (fd.north -| 5465,0);
\draw[eG] (f19.south -| 5000,0) .. controls (4880,2850) and (4830,3000) .. (f3e.north -| 4941,0);
\draw[eR] (f19.south -| 5105,0) -- (f1f.north -| 5105,0);
\draw[eB] (f1f.south -| 5223,0) -- (f50.north -| 5351,0);
\draw[eB] (fd.south -| 5479,0) -- (f50.north -| 5438,0);
\draw[eY] (f3e.south -| 5084,0) -- (ma1.north -| 5079,0);
\draw[eY] (f3e.south -| 5233,0) -- (m70.north -| 5320,0);
\draw[eY] (f3e.south -| 5270,0) .. controls (5380,3290) and (5460,3300) .. (f249.north west);
\draw[eY] (f3e.south -| 4977,0) .. controls (4925,3330) and (4920,3400) .. (4920,3500) -- (4920,4450) .. controls (4920,4540) and (4880,4600) .. (m95.north -| 4854,0);
\draw[eY] (f50.south -| 5351,0) -- (ma1.north -| 5146,0);
\draw[eY] (f50.south -| 5412,0) -- (m70.north -| 5402,0);
\draw[eY] (f50.south -| 5489,0) -- (f249.north -| 5622,0);
\draw[eY] (f50.south -| 5330,0) .. controls (5260,3320) and (5230,3400) .. (5140,3470) .. controls (5000,3570) and (4869,3620) .. (4869,3750) -- (4869,4450) .. controls (4869,4550) and (4840,4600) .. (m95.north -| 4828,0);
\draw[eK] (m8b.east |- 0,4516) .. controls (4700,4440) and (4818,4300) .. (4818,4100) -- (4818,3200) .. controls (4818,2850) and (4950,2650) .. (func.west |- 0,2593);
\draw[eB] (m58.south -| 6300,0) .. controls (6280,3420) and (6200,3620) .. (mb2.east |- 0,3697);
\draw[eG] (f249.south -| 5694,0) -- (f25e.north -| 5676,0);
\draw[eR] (f249.east |- 0,3406) .. controls (6000,3430) and (6098,3480) .. (6098,3600) -- (6095,4200) .. controls (6095,4350) and (6130,4450) .. (f259.north -| 6160,0);
\draw[eG] (aa24.south -| 3476,0) -- (aa3d.north -| 3476,0);
\draw[eR] (aa24.south -| 3529,0) .. controls (3680,3090) and (3850,3300) .. (aa2a.north -| 4062,0);
\draw[eG] (aa.south -| 3333,0) -- (aa24.north -| 3432,0);
\draw[eR] (aa.south -| 3229,0) .. controls (3180,2950) and (3161,3050) .. (3161,3200) -- (3161,3380) .. controls (3161,3550) and (3000,3630) .. (aa11.north -| 2896,0);
\draw[eK] (m81.south -| 3255,0) -- (aa.north -| 3255,0);
\draw[eD] (m81.west |- 0,2573) .. controls (2800,2620) and (2538,2750) .. (2538,3000) -- (2538,4200) .. controls (2538,4350) and (3000,4430) .. (m8b.west |- 0,4537);
\draw[eG] (aa3d.south -| 3512,0) -- (aa56.north -| 3622,0);
\draw[eR] (aa3d.south -| 3458,0) -- (aa43.north -| 3246,0);
\draw[eG] (aa56.east |- 0,3408) -- (aa6f.west |- 0,3522);
\draw[eR] (aa56.south -| 3657,0) -- (aa5c.north -| 3657,0);
\draw[eR] (aa6f.south -| 4526,0) -- (aa75.north -| 4526,0);
\draw[eG] (aa6f.south -| 4638,0) .. controls (4760,3650) and (4770,3720) .. (4767,3850) -- (4767,4050) .. controls (4767,4250) and (4450,4350) .. (aa86.east |- 0,4392);
\draw[eK] (aa43.east |- 0,3772) -- (p630.north -| 3804,0);
\draw[eK] (aa11.east |- 0,3772) .. controls (3150,3800) and (3500,3840) .. (p630.west |- 0,3868);
\draw[eK] (aa5c.south -| 3752,0) -- (p630.north -| 3898,0);
\draw[eK] (aa2a.south -| 4050,0) -- (p630.north -| 3985,0);
\draw[eK] (aa75.south -| 4349,0) -- (p630.north -| 4072,0);
\draw[eK] (aab11.west |- 0,3752) -- (p630.east |- 0,3861);
\draw[eB] (p630.south -| 3957,0) -- (printf.north -| 3957,0);
\draw[eY] (printf.west |- 0,4040) .. controls (3650,4075) and (3540,4120) .. (aa22.north -| 3478,0);
\draw[eY] (printf.south -| 3914,0) .. controls (3840,4100) and (3780,4140) .. (aa54.north -| 3731,0);
\draw[eY] (printf.south -| 3955,0) -- (aa6d.north -| 3943,0);
\draw[eY] (printf.south -| 4001,0) .. controls (4090,4120) and (4090,4200) .. (4100,4250) .. controls (4110,4300) and (4120,4330) .. (aa86.north -| 4134,0);
\draw[eY] (printf.south -| 4016,0) -- (aa3b.north -| 4200,0);
\draw[eY] (printf.east |- 0,4045) .. controls (4500,4105) and (4900,4165) .. (aab22.west |- 0,4197);
\draw[eD] (aa11.south -| 2850,0) -- (aa22.north -| 3407,0);
\draw[eD] (aa43.south -| 3268,0) -- (aa54.north -| 3663,0);
\draw[eD] (aa5c.south -| 3673,0) .. controls (3720,3900) and (3800,4050) .. (aa6d.north -| 3908,0);
\draw[eD] (aa2a.south -| 4113,0) -- (aa3b.north -| 4231,0);
\draw[eD] (aa75.south -| 4526,0) .. controls (4520,4050) and (4450,4250) .. (aa86.east |- 0,4377);
\draw[eB] (aa22.south -| 3476,0) .. controls (3560,4320) and (3750,4360) .. (aa86.west |- 0,4403);
\draw[eB] (aa54.south -| 3724,0) .. controls (3800,4320) and (3950,4370) .. (aa86.west |- 0,4392);
\draw[eB] (aa6d.south -| 3975,0) -- (aa86.north -| 4108,0);
\draw[eB] (aa3b.south -| 4226,0) -- (aa86.north -| 4181,0);
\draw[eY] (aa86.south -| 4233,0) -- (m8b.north -| 4298,0);
\draw[eD] (m8b.east |- 0,4582) -- (m95.north west);
\draw[eK] (m70.south -| 5371,0) -- (aab.north -| 5345,0);
\draw[eR] (aab.south -| 5261,0) -- (aab11.north -| 5238,0);
\draw[eG] (aab.south -| 5397,0) .. controls (5440,3700) and (5420,3800) .. (5390,3900) .. controls (5360,4000) and (5320,4080) .. (aab22.north -| 5284,0);
\draw[eD] (aab11.south -| 5215,0) -- (aab22.north -| 5248,0);
\draw[eY] (aab22.south -| 5282,0) -- (m7f.north -| 5351,0);
\draw[eD] (m70.south -| 5443,0) .. controls (5490,3480) and (5504,3550) .. (5504,3650) -- (5504,3950) .. controls (5504,4150) and (5420,4300) .. (m7f.north -| 5386,0);
\draw[eB] (m7f.south -| 5381,0) -- (mbc.north -| 5479,0);
\draw[eY] (f128.south -| 5619,0) -- (mbc.north -| 5523,0);
\draw[eD] (mb2.south -| 5934,0) .. controls (5960,3880) and (5965,3950) .. (5965,4100) -- (5965,4550) .. controls (5965,4700) and (5800,4760) .. (mbc.east |- 0,4781);
\draw[eB] (ma1.south -| 5061,0) .. controls (5000,3550) and (4970,3650) .. (4970,3800) -- (4970,4500) .. controls (4970,4650) and (5150,4700) .. (mbc.west |- 0,4759);
\draw[eB] (m95.east |- 0,4696) -- (mbc.west |- 0,4776);
\draw[eY] (f25e.south -| 5724,0) -- (mb2.north -| 5863,0);
\draw[eB] (m64.south -| 5929,0) -- (mb2.north -| 5924,0);
\draw[eK] (mb2.south -| 5875,0) -- (func1.north -| 5808,0);
\draw[eB] (func1.south -| 5732,0) -- (f122.north -| 5724,0);
\draw[eG] (f122.south -| 5719,0) -- (f19x.north -| 5719,0);
\draw[eR] (f122.south -| 5578,0) .. controls (5460,4120) and (5440,4300) .. (f128.north -| 5557,0);
\draw[eG] (f19x.east |- 0,4189) .. controls (5950,4200) and (5950,4235) .. (f19x.east |- 0,4241);
\draw[eR] (f19x.south -| 5676,0) -- (f128.north -| 5658,0);
\draw[eK] (f259.south -| 6165,0) .. controls (6100,4750) and (6000,4960) .. (p620.north -| 5888,0);
\draw[eR] (mbc.south -| 5502,0) -- (md0.north -| 5502,0);
\draw[eG] (mbc.south -| 5627,0) -- (md5.north -| 5730,0);
\draw[eK] (md0.south -| 5586,0) -- (p620.north -| 5740,0);
\draw[eB] (p620.south -| 5825,0) -- (stack.north -| 5825,0);
\end{pgfonlayer}
\end{tikzpicture}
\end{document}
